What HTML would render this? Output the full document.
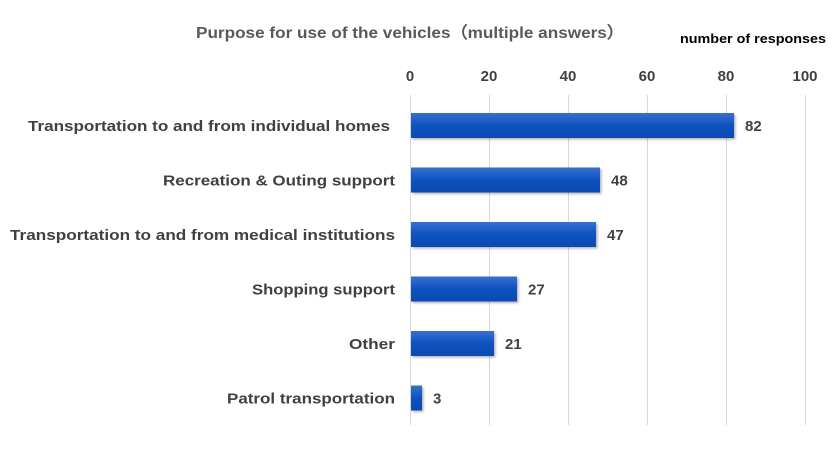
<!DOCTYPE html>
<html><head><meta charset="utf-8"><style>body{margin:0;background:#fff}svg{display:block}</style></head>
<body>
<svg width="840" height="464" xmlns="http://www.w3.org/2000/svg" font-family="Liberation Sans, sans-serif" font-weight="bold" fill="#404040">
<defs>
<linearGradient id="g" x1="0" y1="0" x2="0" y2="1">
<stop offset="0" stop-color="#3a6fd0"/><stop offset="0.5" stop-color="#0d52c0"/><stop offset="1" stop-color="#0a4ab0"/>
</linearGradient>
<filter id="s"><feDropShadow dx="1.5" dy="1.5" stdDeviation="1.2" flood-color="#000" flood-opacity="0.3"/></filter>
</defs>
<text x="196" y="38" font-size="16" fill="#595959" textLength="428" lengthAdjust="spacingAndGlyphs">Purpose for use of the vehicles（multiple answers）</text>
<text x="680" y="43" font-size="12.5" fill="#000" textLength="146" lengthAdjust="spacingAndGlyphs">number of responses</text>
<g stroke="#d9d9d9" stroke-width="1">
<line x1="410.5" y1="95" x2="410.5" y2="425"/><line x1="489.5" y1="95" x2="489.5" y2="425"/><line x1="568.5" y1="95" x2="568.5" y2="425"/><line x1="647.5" y1="95" x2="647.5" y2="425"/><line x1="726.5" y1="95" x2="726.5" y2="425"/><line x1="805.5" y1="95" x2="805.5" y2="425"/>
</g>
<g font-size="15" text-anchor="middle">
<text x="410" y="81">0</text><text x="489" y="81">20</text><text x="568" y="81">40</text><text x="647" y="81">60</text><text x="726" y="81">80</text><text x="805" y="81">100</text>
</g>
<g fill="url(#g)" filter="url(#s)">
<rect x="411" y="113" width="323" height="25"/>
<rect x="411" y="167.5" width="189" height="25"/>
<rect x="411" y="222" width="185" height="25"/>
<rect x="411" y="276.5" width="106" height="25"/>
<rect x="411" y="331" width="83" height="25"/>
<rect x="411" y="385.5" width="11" height="25"/>
</g>
<g font-size="15">
<text x="745" y="131">82</text>
<text x="611" y="185.5">48</text>
<text x="607" y="240">47</text>
<text x="528" y="294.5">27</text>
<text x="505" y="349">21</text>
<text x="433" y="403.5">3</text>
</g>
<g font-size="15" text-anchor="end">
<text x="390" y="131" textLength="362" lengthAdjust="spacingAndGlyphs">Transportation to and from individual homes</text>
<text x="395" y="185.5" textLength="232" lengthAdjust="spacingAndGlyphs">Recreation &amp; Outing support</text>
<text x="395" y="240" textLength="385" lengthAdjust="spacingAndGlyphs">Transportation to and from medical institutions</text>
<text x="395" y="294.5" textLength="143" lengthAdjust="spacingAndGlyphs">Shopping support</text>
<text x="395" y="349" textLength="46" lengthAdjust="spacingAndGlyphs">Other</text>
<text x="395" y="403.5" textLength="168" lengthAdjust="spacingAndGlyphs">Patrol transportation</text>
</g>
</svg>
</body></html>
